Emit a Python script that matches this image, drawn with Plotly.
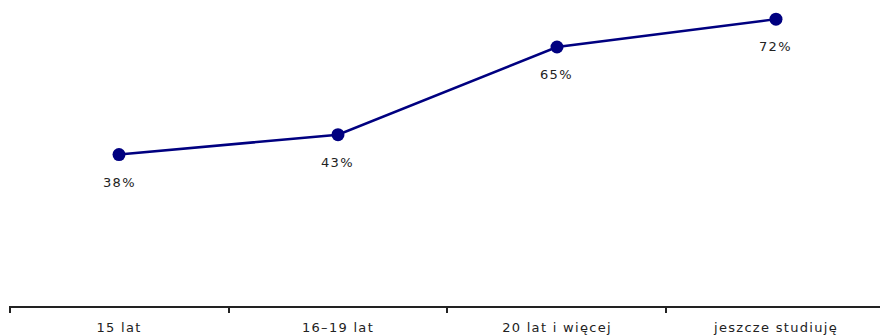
import plotly.graph_objects as go

categories = ["15 lat", "16–19 lat", "20 lat i więcej", "jeszcze studiuję"]
values = [38, 43, 65, 72]
labels = ["38%", "43%", "65%", "72%"]

fig = go.Figure()
fig.add_trace(go.Scatter(
    x=categories, y=values, mode="lines+markers",
    line=dict(color="#000080", width=2.5),
    marker=dict(color="#000080", size=13),
    hoverinfo="skip",
))
for c, v, t in zip(categories, values, labels):
    fig.add_annotation(x=c, y=v, text=t, showarrow=False, yanchor="top",
                       yshift=-18, font=dict(family="DejaVu Sans", size=13, color="#222"))

fig.update_layout(
    width=880, height=335,
    margin=dict(l=9, r=0, t=0, b=29),
    paper_bgcolor="white", plot_bgcolor="white",
    showlegend=False,
    font=dict(family="DejaVu Sans", size=13, color="#222"),
    xaxis=dict(type="category", range=[-0.5023, 3.475], tickson="boundaries",
               ticks="outside", ticklen=5, tickwidth=2, tickcolor="#222",
               ticklabelstandoff=8,
               showline=True, linecolor="#222", linewidth=2,
               showgrid=False, zeroline=False, fixedrange=True),
    yaxis=dict(range=[0, 76.8], visible=False, showgrid=False, zeroline=False),
)

post = """
function spaceText(){
  var gd = document.getElementsByClassName('plotly-graph-div')[0];
  gd.querySelectorAll('.xtick text, .annotation-text').forEach(function(e){
    e.style.letterSpacing = '1.3px';
  });
}
spaceText();
"""
fig.write_html("out.html", post_script=post)
